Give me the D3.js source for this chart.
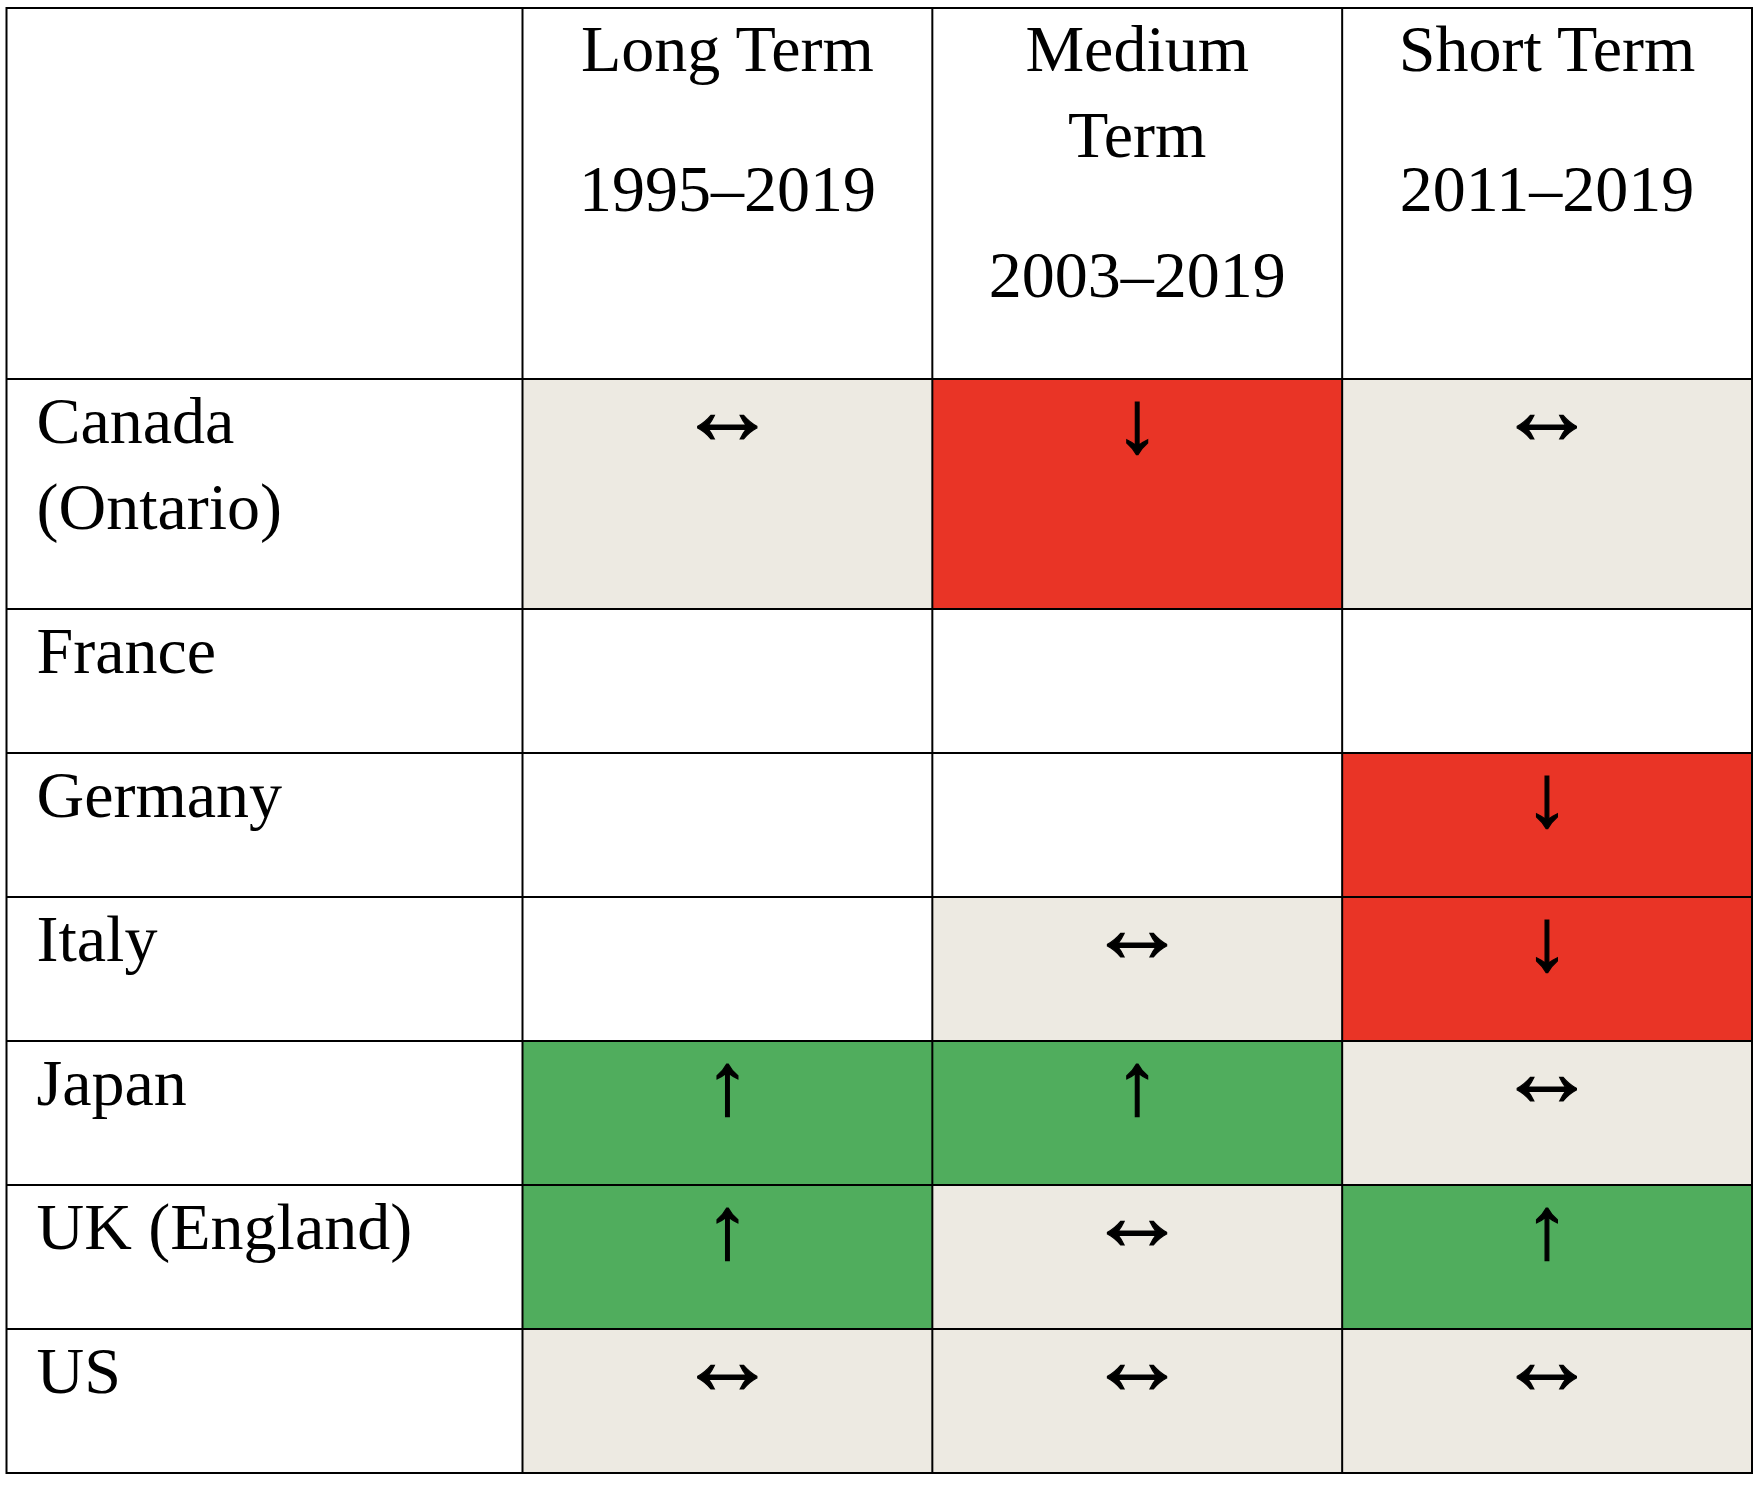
<!DOCTYPE html>
<html>
<head>
<meta charset="utf-8">
<script src="https://cdn.jsdelivr.net/npm/d3@7"></script>
<style>
html,body{margin:0;padding:0;background:#fff;}
svg{display:block;}
</style>
</head>
<body>
<svg id="chart" width="1762" height="1486"></svg>
<script>
// ---- data ----
const columns = ["Long Term", "Medium Term", "Short Term"];
const headerParagraphs = [
  [["Long Term"], ["1995–2019"]],
  [["Medium", "Term"], ["2003–2019"]],
  [["Short Term"], ["2011–2019"]]
];
const countries = ["Canada (Ontario)", "France", "Germany", "Italy", "Japan", "UK (England)", "US"];
const countryLines = [["Canada", "(Ontario)"], ["France"], ["Germany"], ["Italy"], ["Japan"], ["UK (England)"], ["US"]];
// trend per country per column: "same" ↔, "down" ↓, "up" ↑, "none" (no data)
const longTerm   = ["same", "none", "none", "none", "up",   "up",   "same"];
const mediumTerm = ["down", "none", "none", "same", "up",   "same", "same"];
const shortTerm  = ["same", "none", "down", "down", "same", "up",   "same"];

// ---- styles ----
const fillFor = {same: "#EDEAE2", down: "#E93426", up: "#50AD5D", none: "#FFFFFF"};
const glyphFor = {same: "\u2194", down: "\u2193", up: "\u2191", none: ""};
const FONT = "'Liberation Serif','Times New Roman',Times,serif";

const svg = d3.select("#chart");
const leftX = 6.5, rightX = 1752, topY = 8, headerH = 371;
const labelW = 516;
const lineH = 86, rowPad = 58;

const series = [longTerm, mediumTerm, shortTerm];
const cells = [];
countries.forEach((c, i) => columns.forEach((col, j) => cells.push({country: c, col, value: series[j][i]})));

const x = d3.scaleBand().domain(columns).range([leftX + labelW, rightX]);

const rowHeights = countryLines.map(l => rowPad + lineH * l.length);
const rowTops = [0, ...d3.cumsum(rowHeights)].map(v => v + topY + headerH);
const yTop = d3.scaleOrdinal().domain(countries).range(rowTops.slice(0, countries.length));
const hOf = d3.scaleOrdinal().domain(countries).range(rowHeights);
const bottomY = rowTops[countries.length];

// cell fills
svg.append("g").selectAll("rect").data(cells).join("rect")
  .attr("x", d => x(d.col)).attr("y", d => yTop(d.country))
  .attr("width", x.bandwidth()).attr("height", d => hOf(d.country))
  .attr("fill", d => fillFor[d.value]);

// arrows
svg.append("g").selectAll("text").data(cells.filter(d => d.value !== "none")).join("text")
  .attr("x", d => x(d.col) + x.bandwidth() / 2)
  .attr("y", d => yTop(d.country) + (d.value === "same" ? 65 : 73))
  .attr("text-anchor", "middle")
  .attr("font-family", FONT)
  .attr("font-size", d => d.value === "same" ? 100 : 89)
  .attr("fill", "#000")
  .attr("stroke", "#000")
  .attr("stroke-width", 1.2)
  .text(d => glyphFor[d.value]);

// row labels
const lab = svg.append("g").selectAll("text").data(countries).join("text")
  .attr("font-family", FONT).attr("font-size", 66).attr("fill", "#000");
lab.each(function(c, i) {
  d3.select(this).selectAll("tspan").data(countryLines[i]).join("tspan")
    .attr("x", leftX + 30)
    .attr("y", (t, k) => yTop(c) + 64 + k * lineH)
    .text(t => t);
});

// header labels
const hdr = svg.append("g").selectAll("text").data(columns).join("text")
  .attr("font-family", FONT).attr("font-size", 66).attr("fill", "#000")
  .attr("text-anchor", "middle");
hdr.each(function(col, j) {
  const items = [];
  let n = 0;
  headerParagraphs[j].forEach((para, p) => para.forEach(t => { items.push({t, y: topY + 63 + n * lineH + p * 54}); n++; }));
  d3.select(this).selectAll("tspan").data(items).join("tspan")
    .attr("x", x(col) + x.bandwidth() / 2)
    .attr("y", d => d.y).text(d => d.t);
});

// grid lines
const g = svg.append("g").attr("stroke", "#000").attr("stroke-width", 2).attr("fill", "none");
const vLines = [leftX, ...columns.map(c => x(c)), rightX];
g.selectAll("line.v").data(vLines).join("line").attr("class", "v")
  .attr("x1", d => d).attr("x2", d => d).attr("y1", topY - 1).attr("y2", bottomY + 1);
const hLines = [topY, ...rowTops];
g.selectAll("line.h").data(hLines).join("line").attr("class", "h")
  .attr("x1", leftX).attr("x2", rightX).attr("y1", d => d).attr("y2", d => d);
</script>
</body>
</html>
